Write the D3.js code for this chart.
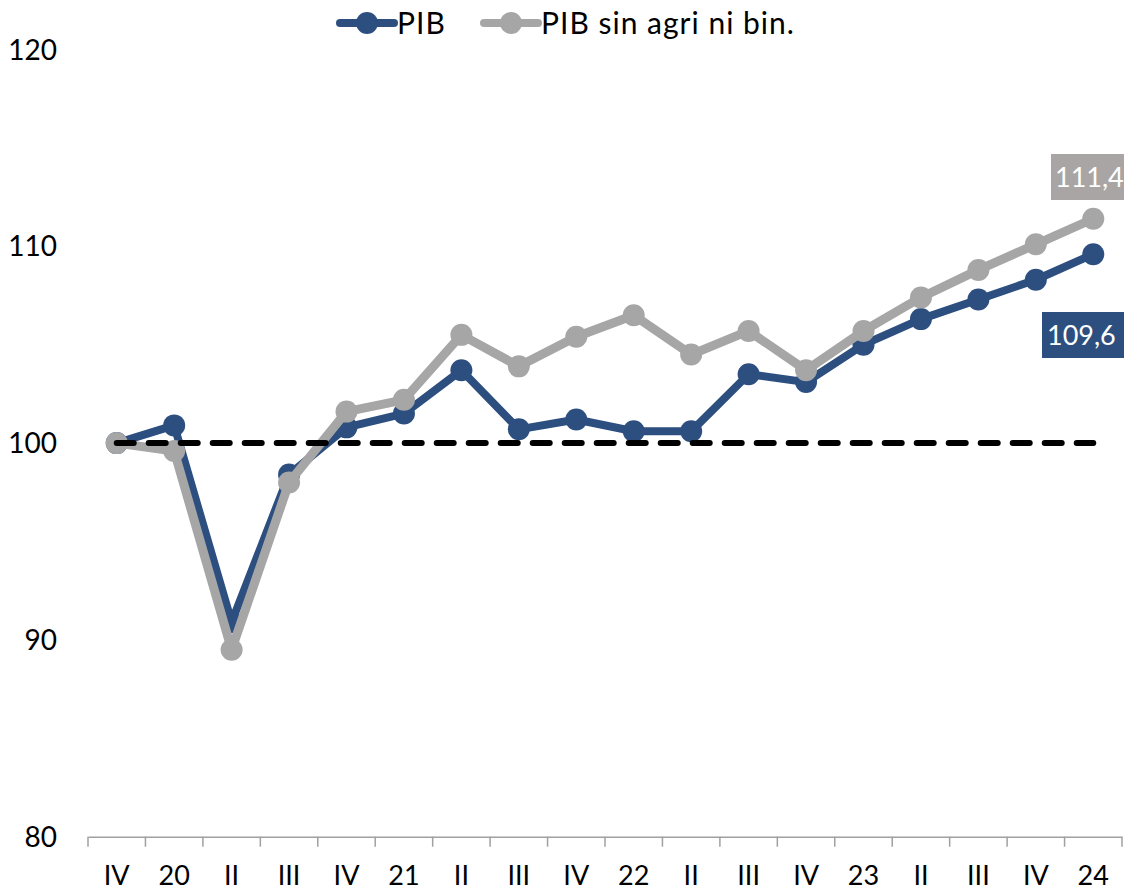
<!DOCTYPE html>
<html>
<head>
<meta charset="utf-8">
<script src="https://cdn.jsdelivr.net/npm/d3@7"></script>
<style>
  body { margin: 0; background: #fff; }
  svg { display: block; font-family: Lato, "Open Sans", sans-serif; }
</style>
</head>
<body>
<div id="chart"></div>
<script>
"use strict";

// categories (quarters)
var quarters = ["IV", "20", "II", "III", "IV", "21", "II", "III", "IV", "22",
                "II", "III", "IV", "23", "II", "III", "IV", "24"];

// PIB index
var pib = [100, 100.9, 90.9, 98.4, 100.8, 101.5, 103.7, 100.7, 101.2, 100.6,
           100.6, 103.5, 103.1, 105.0, 106.3, 107.3, 108.3, 109.6];

// PIB sin agri ni bin.
var pibSinAgri = [100, 99.6, 89.5, 98.0, 101.6, 102.2, 105.5, 103.9, 105.4, 106.5,
                  104.5, 105.7, 103.7, 105.7, 107.4, 108.8, 110.1, 111.4];

var yTicks = [80, 90, 100, 110, 120];
var baseline = 100;

var width = 1124, height = 892;
var blue = "#2d4f80", gray = "#a6a6a6";

var svg = d3.select("#chart").append("svg")
  .attr("width", width)
  .attr("height", height);

var x = d3.scaleBand()
  .domain(d3.range(quarters.length))
  .range([88, 1122])
  .padding(0);

var y = d3.scaleLinear()
  .domain([80, 120])
  .range([836.7, 49.5]);

var cx = function(i) { return x(i) + x.bandwidth() / 2; };

// y labels (no axis line)
svg.append("g")
  .selectAll("text")
  .data(yTicks)
  .enter()
  .append("text")
  .attr("x", 57)
  .attr("y", function(d) { return y(d); })
  .attr("dy", "0.36em")
  .attr("text-anchor", "end")
  .attr("font-size", 28)
  .attr("fill", "#000")
  .text(function(d) { return d; });

// x axis
var xAxis = d3.axisBottom(x)
  .tickSize(0)
  .tickFormat(function(i) { return quarters[i]; });

var gx = svg.append("g")
  .attr("transform", "translate(0," + y(80) + ")")
  .call(xAxis);
gx.select(".domain").attr("stroke", "#a0a0a0").attr("stroke-width", 1.5);
gx.selectAll(".tick text")
  .attr("font-size", 27)
  .attr("font-family", "Lato, 'Open Sans', sans-serif")
  .attr("fill", "#000")
  .attr("dy", 0)
  .attr("y", 48);

// tick marks at band edges
var edges = d3.range(quarters.length + 1).map(function(i) {
  return i < quarters.length ? x(i) : x(i - 1) + x.bandwidth();
});
gx.selectAll("line.edge")
  .data(edges)
  .enter()
  .append("line")
  .attr("class", "edge")
  .attr("x1", function(d) { return d; })
  .attr("x2", function(d) { return d; })
  .attr("y1", 0)
  .attr("y2", 10)
  .attr("stroke", "#a0a0a0")
  .attr("stroke-width", 1.5);

var line = d3.line()
  .x(function(d, i) { return cx(i); })
  .y(function(d) { return y(d); });

function drawSeries(vals, color, lw) {
  svg.append("path")
    .datum(vals)
    .attr("d", line)
    .attr("fill", "none")
    .attr("stroke", color)
    .attr("stroke-width", lw)
    .attr("stroke-linejoin", "round");
  svg.append("g")
    .selectAll("circle")
    .data(vals)
    .enter()
    .append("circle")
    .attr("cx", function(d, i) { return cx(i); })
    .attr("cy", function(d) { return y(d); })
    .attr("r", 11)
    .attr("fill", color);
}

drawSeries(pib, blue, 8);
drawSeries(pibSinAgri, gray, 9);

// dashed 100 line
svg.append("line")
  .attr("x1", cx(0))
  .attr("x2", cx(quarters.length - 1))
  .attr("y1", y(baseline))
  .attr("y2", y(baseline))
  .attr("stroke", "#000")
  .attr("stroke-width", 6)
  .attr("stroke-linecap", "round")
  .attr("stroke-dasharray", "17,15");

// end value labels
var last = quarters.length - 1;
function endLabel(val, color, x0, yTop, tx) {
  var g = svg.append("g");
  g.append("rect")
    .attr("x", x0)
    .attr("y", yTop)
    .attr("width", 90)
    .attr("height", 46)
    .attr("fill", color);
  g.append("text")
    .attr("x", x0 + tx)
    .attr("y", yTop + 33)
    .attr("font-size", 27)
    .attr("fill", "#fff")
    .text(d3.format(".1f")(val).replace(".", ","));
}
endLabel(pibSinAgri[last], "#a9a5a4", 1051, 154, 4);
endLabel(pib[last], blue, 1042, 312, 5);

// legend
var legend = [
  { name: "PIB", color: blue, x: 336 },
  { name: "PIB sin agri ni bin.", color: gray, x: 480 }
];
var lg = svg.append("g").selectAll("g")
  .data(legend)
  .enter()
  .append("g")
  .attr("transform", function(d) { return "translate(" + d.x + ",23)"; });
lg.append("line")
  .attr("x1", 4).attr("x2", 58)
  .attr("stroke", function(d) { return d.color; })
  .attr("stroke-width", 8)
  .attr("stroke-linecap", "round");
lg.append("circle")
  .attr("cx", 31)
  .attr("r", 11)
  .attr("fill", function(d) { return d.color; });
lg.append("text")
  .attr("x", 61)
  .attr("dy", "0.36em")
  .attr("font-size", 30)
  .attr("letter-spacing", 1)
  .attr("fill", "#000")
  .text(function(d) { return d.name; });
</script>
</body>
</html>
